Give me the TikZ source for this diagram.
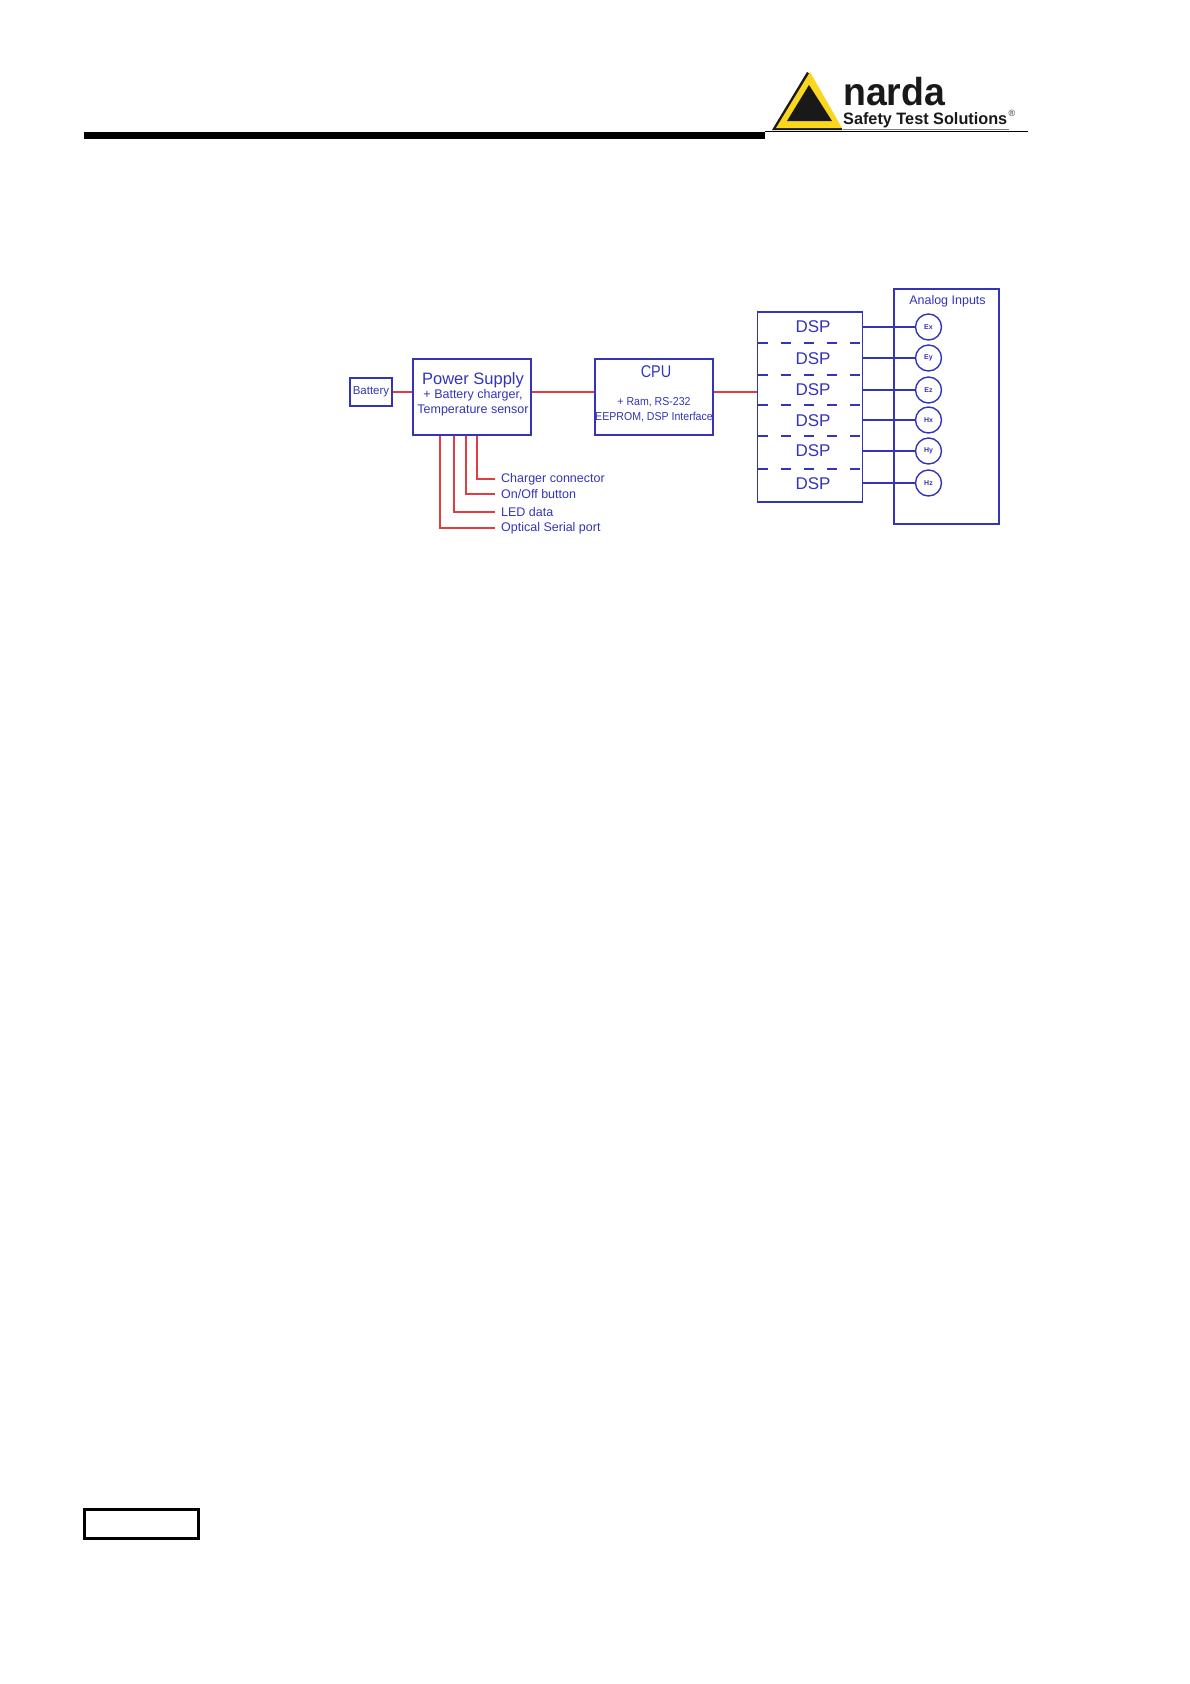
\documentclass[tikz,border=0pt]{standalone}
\usepackage{fontspec}
\setmainfont{Liberation Sans}
\usetikzlibrary{positioning}
\definecolor{inkblue}{RGB}{52,52,185}
\definecolor{wirered}{RGB}{222,62,66}
\definecolor{logoyellow}{RGB}{250,215,30}
\tikzstyle{block}=[draw=inkblue,line width=1.4pt,rectangle,text=inkblue,align=center,inner sep=0pt]
\tikzstyle{dspcell}=[rectangle,text=inkblue,minimum width=105pt,inner sep=0pt,font=\fontsize{17}{17}\selectfont]
\tikzstyle{input}=[draw=inkblue,line width=1.4pt,circle,text=inkblue,minimum size=26pt,inner sep=0pt,font=\bfseries\fontsize{7}{7}\selectfont]
\tikzstyle{tag}=[text=inkblue,anchor=west,inner sep=0pt,font=\fontsize{12.5}{12.5}\selectfont]
\tikzstyle{redwire}=[draw=wirered,line width=1.3pt]
\tikzstyle{bluewire}=[draw=inkblue,line width=1.3pt]

\begin{document}
\begin{tikzpicture}[x=1pt,y=-1pt]
	\useasboundingbox (0,0) rectangle (1190,1684);
	% header
	\fill (84,131.5) rectangle (765,139);
	\draw[line width=0.8pt] (765,131.5) -- (1028,131.5);
	\draw[gray,line width=0.8pt] (843,129.5) -- (1009,129.5);
	\fill[black!90] (807,72) -- (772,130) -- (842,130) -- (842,128) -- (778,128) -- (810,74) -- cycle;
	\fill[logoyellow] (810,72) -- (776,128) -- (842,128) -- cycle;
	\fill[black!90] (809,85) -- (787,121) -- (832,121) -- cycle;
	\node[anchor=base west,inner sep=0pt,font=\bfseries\fontsize{39}{39}\selectfont,xscale=0.96,text=black!90] (brand) at (843,105) {narda};
	\node[anchor=base west,inner sep=0pt,font=\bfseries\fontsize{16.5}{16.5}\selectfont,xscale=0.985,text=black!90] (slogan) at (843,124) {Safety Test Solutions};
	\node[inner sep=0pt,font=\fontsize{9}{9}\selectfont,text=black!80] (regmark) at (1012,113) {®};

	% left part
	\node[block,minimum width=42pt,minimum height=28pt,font=\fontsize{11.5}{11.5}\selectfont] (battery) at (371,392) {\raisebox{-1pt}{Battery}};
	\node[block,minimum width=118pt,minimum height=76pt] (power) at (472,397) {};
	\node[text=inkblue,font=\fontsize{16.5}{16.5}\selectfont,inner sep=0pt] (powertitle) at (473,380) {Power Supply};
	\node[text=inkblue,align=center,font=\fontsize{12.5}{15}\selectfont,inner sep=0pt] (powertext) at (473,403) {+ Battery charger,\\Temperature sensor};
	\node[block,minimum width=118pt,minimum height=76pt] (cpu) at (654,397) {};
	\node[text=inkblue,font=\fontsize{17}{17}\selectfont,xscale=0.85,inner sep=0pt] (cputitle) at (656,372) {CPU};
	\node[text=inkblue,align=center,font=\fontsize{11.5}{15}\selectfont,inner sep=0pt,xscale=0.92] (cputext) at (654,410) {+ Ram, RS-232\\EEPROM, DSP Interface};

	\node[tag] (charger) at (501,479) {Charger connector};
	\node[tag] (onoff) at (501,494) {On/Off button};
	\node[tag] (led) at (501,512) {LED data};
	\node[tag] (optical) at (501,528) {Optical Serial port};

	% DSP stack
	\node[block,minimum width=105pt,minimum height=190pt] (dspbox) at (810,407) {};
	\node[dspcell] (dspa) at (810,327) {\hspace*{6pt}DSP};
	\node[dspcell] (dspb) at (810,359) {\hspace*{6pt}DSP};
	\node[dspcell] (dspc) at (810,389.5) {\hspace*{6pt}DSP};
	\node[dspcell] (dspd) at (810,420.5) {\hspace*{6pt}DSP};
	\node[dspcell] (dspe) at (810,450.5) {\hspace*{6pt}DSP};
	\node[dspcell] (dspf) at (810,484) {\hspace*{6pt}DSP};
	\foreach \yy in {343,375,405,436,469}
		\draw[inkblue,line width=1.2pt,dash pattern=on 10pt off 13pt] (758,\yy) -- (862,\yy);

	% analog inputs
	\node[block,minimum width=105pt,minimum height=235pt] (analog) at (946.5,406.5) {};
	\node[text=inkblue,font=\fontsize{12.5}{12.5}\selectfont,inner sep=0pt] (analogtitle) at (947.5,301.5) {Analog Inputs};
	\node[input] (ex) at (928.5,327) {Ex};
	\node[input] (ey) at (928.5,358) {Ey};
	\node[input] (ez) at (928.5,390) {Ez};
	\node[input] (hx) at (928.5,420) {Hx};
	\node[input] (hy) at (928.5,451) {Hy};
	\node[input] (hz) at (928.5,483) {Hz};

	% connectors
	\draw[redwire] (battery.east) -- (power.west |- battery.east);
	\draw[redwire] (power.east |- battery.east) -- (cpu.west |- battery.east);
	\draw[redwire] (cpu.east |- battery.east) -- (dspbox.west |- battery.east);
	\draw[redwire] ([xshift=5pt]power.south) |- ([xshift=-6pt]charger.west);
	\draw[redwire] ([xshift=-6pt]power.south) |- ([xshift=-6pt]onoff.west);
	\draw[redwire] ([xshift=-18pt]power.south) |- ([xshift=-6pt]led.west);
	\draw[redwire] ([xshift=-32pt]power.south) |- ([xshift=-6pt]optical.west);
	\draw[bluewire] (dspa.east |- ex.west) -- (ex.west);
	\draw[bluewire] (dspb.east |- ey.west) -- (ey.west);
	\draw[bluewire] (dspc.east |- ez.west) -- (ez.west);
	\draw[bluewire] (dspd.east |- hx.west) -- (hx.west);
	\draw[bluewire] (dspe.east |- hy.west) -- (hy.west);
	\draw[bluewire] (dspf.east |- hz.west) -- (hz.west);

	% footer box
	\node[draw,line width=3pt,minimum width=114pt,minimum height=29pt,inner sep=0pt] (footerbox) at (141.5,1524) {};
\end{tikzpicture}
\end{document}
